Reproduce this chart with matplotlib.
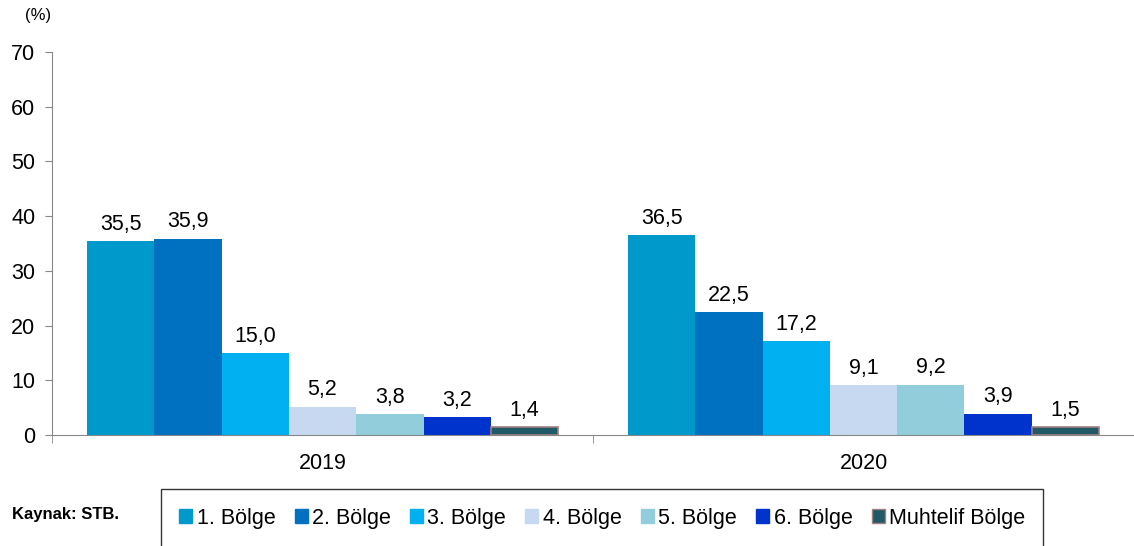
import matplotlib
matplotlib.use("Agg")
import matplotlib.pyplot as plt
from matplotlib.patches import Patch
import numpy as np

plt.rcParams['font.family'] = ['Liberation Sans', 'DejaVu Sans']

years = ["2019", "2020"]
series = ["1. Bölge", "2. Bölge", "3. Bölge", "4. Bölge", "5. Bölge", "6. Bölge", "Muhtelif Bölge"]
values = {
    "1. Bölge": [35.5, 36.5],
    "2. Bölge": [35.9, 22.5],
    "3. Bölge": [15.0, 17.2],
    "4. Bölge": [5.2, 9.1],
    "5. Bölge": [3.8, 9.2],
    "6. Bölge": [3.2, 3.9],
    "Muhtelif Bölge": [1.4, 1.5],
}
colors = ["#0099CC", "#0070C0", "#00B0F0", "#C6D9F0", "#92CDDC", "#0033CC", "#215967"]
edges = [None, None, None, None, None, None, "#A08080"]

FS = 15.5
fig = plt.figure(figsize=(11.34, 5.46), dpi=100)
ax = fig.add_axes([0.0459, 0.2033, 0.9541, 0.7015])

n = len(series)
w = 0.871 / n
x = np.arange(len(years))
for j, s in enumerate(series):
    pos = x + (j - (n - 1) / 2) * w
    kw = {}
    if edges[j]:
        kw = dict(edgecolor=edges[j], linewidth=1.2)
    bars = ax.bar(pos, values[s], width=w, color=colors[j], **kw)
    for b, v in zip(bars, values[s]):
        ax.annotate(f"{v:.1f}".replace(".", ","), (b.get_x() + b.get_width() / 2, v),
                    xytext=(0, 4.5), textcoords="offset points",
                    ha="center", va="bottom", fontsize=FS)

ax.set_xlim(-0.5, 1.5)
ax.set_ylim(0, 70)
ax.set_yticks(range(0, 71, 10))
ax.tick_params(axis='y', labelsize=FS, length=5, color="#888888", pad=7)
ax.set_xticks(x)
ax.set_xticklabels(years)
ax.tick_params(axis='x', labelsize=FS, length=0, pad=13)
ax.set_xticks([-0.5, 0.5, 1.5], minor=True)
ax.tick_params(axis='x', which='minor', length=6, color="#888888")
for sp in ["top", "right"]:
    ax.spines[sp].set_visible(False)
for sp in ["left", "bottom"]:
    ax.spines[sp].set_color("#888888")

fig.text(0.022, 0.972, "(%)", fontsize=12, ha="left", va="center")
fig.text(0.0105, 0.057, "Kaynak: STB.", fontsize=12, fontweight="bold", ha="left", va="center")

handles = [Patch(facecolor=c, edgecolor=(e if e else c)) for c, e in zip(colors, edges)]
leg = fig.legend(handles, series, loc="upper left", bbox_to_anchor=(0.142, 0.104),
                 ncol=n, fontsize=FS, frameon=True, fancybox=False,
                 handlelength=0.6, handleheight=0.6, handletextpad=0.2,
                 columnspacing=0.9, borderpad=0.85, borderaxespad=0)
leg.get_frame().set_edgecolor("black")
leg.get_frame().set_linewidth(1.0)

fig.savefig("out.png", dpi=100)
